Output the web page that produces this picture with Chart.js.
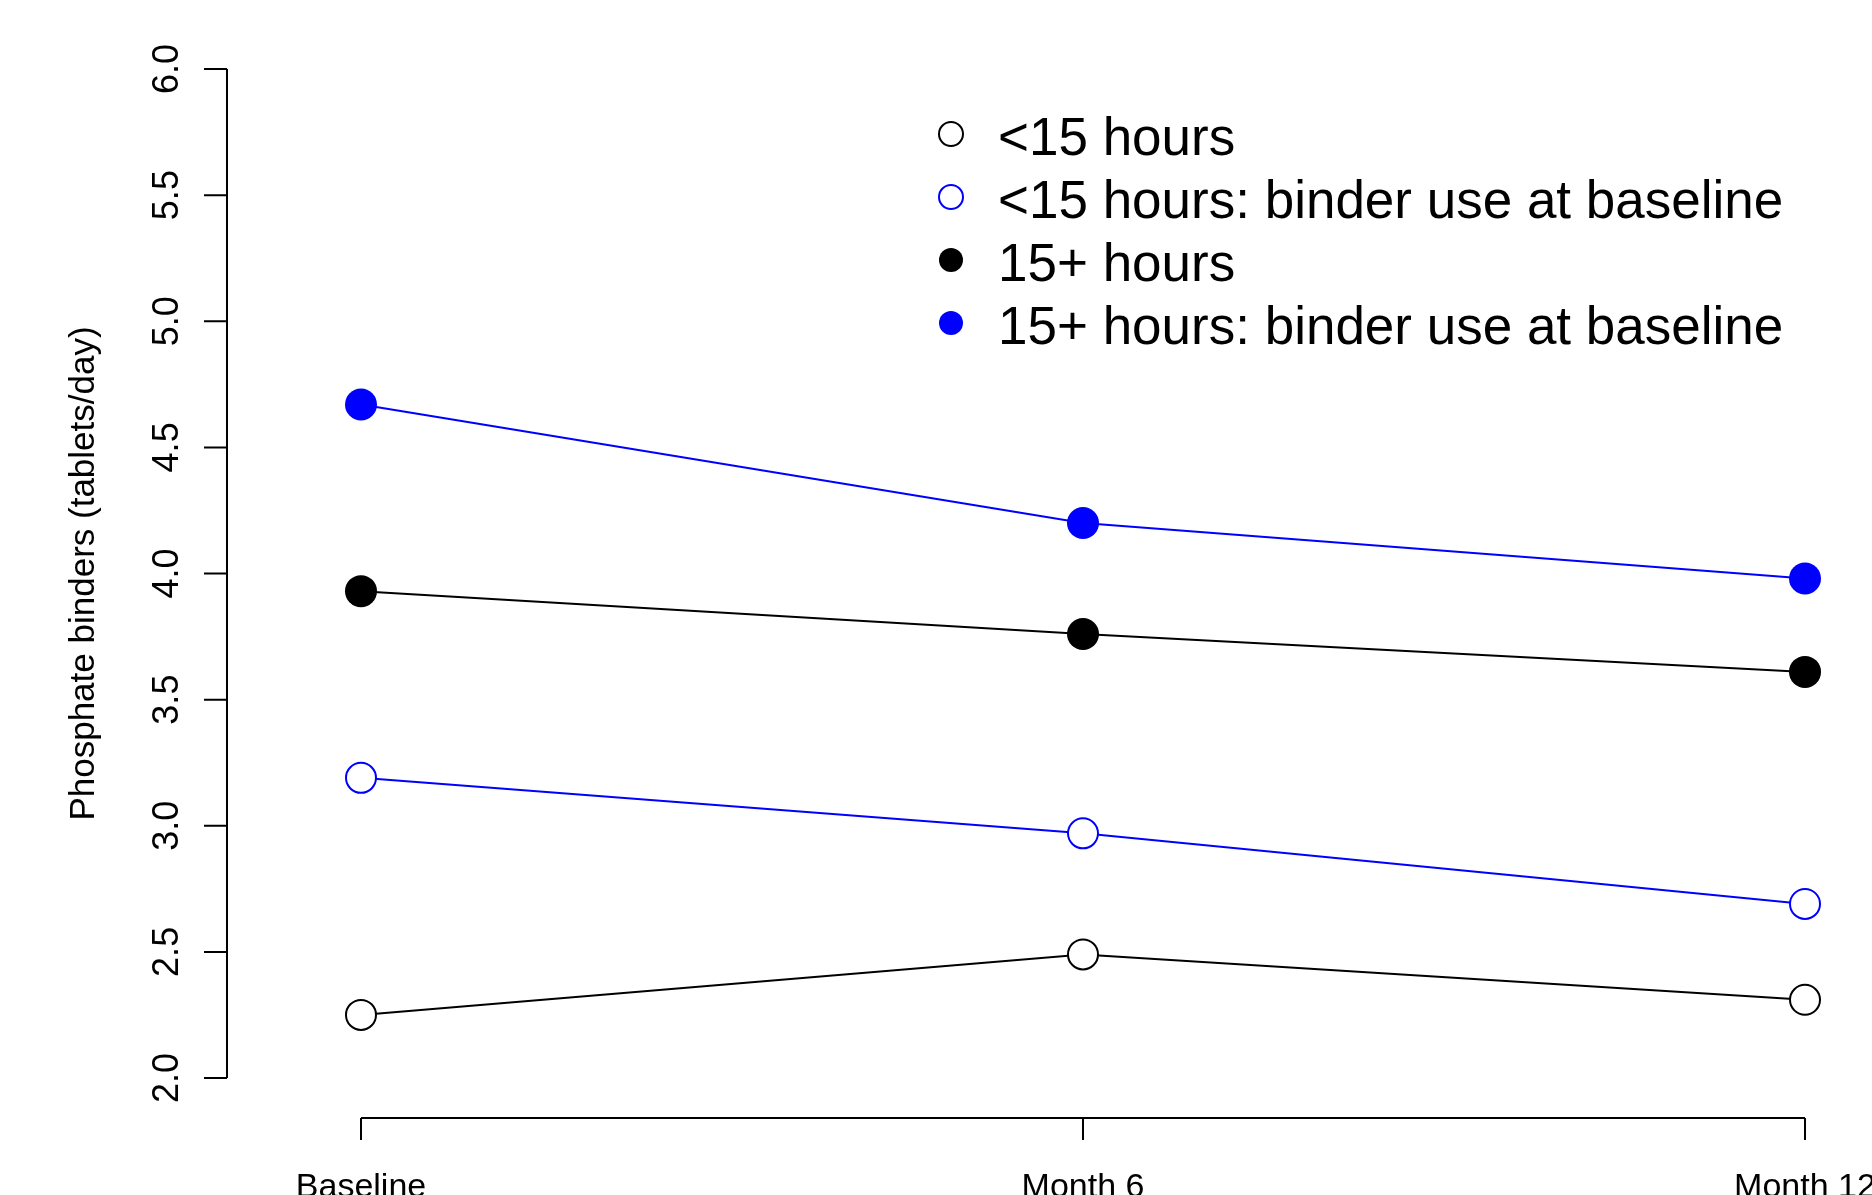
<!DOCTYPE html>
<html>
<head>
<meta charset="utf-8">
<script src="https://cdn.jsdelivr.net/npm/chart.js@4"></script>
<style>
  html, body { margin: 0; padding: 0; background: #fff; }
  canvas { display: block; }
</style>
</head>
<body>
<canvas id="binder-chart" width="1872" height="1195"></canvas>
<script>
const categories = ['Baseline', 'Month 6', 'Month 12'];
const under15 = [2.25, 2.49, 2.31];
const under15Binder = [3.19, 2.97, 2.69];
const over15 = [3.93, 3.76, 3.61];
const over15Binder = [4.67, 4.20, 3.98];
const seriesLabels = [
    '<15 hours',
    '<15 hours: binder use at baseline',
    '15+ hours',
    '15+ hours: binder use at baseline'
];
const yTicks = ['2.0', '2.5', '3.0', '3.5', '4.0', '4.5', '5.0', '5.5', '6.0'];
const yTitle = 'Phosphate binders (tablets/day)';

const FONT = '"Liberation Sans", Arial, Helvetica, sans-serif';

function series(label, data, color, filled) {
    return {
        label: label,
        data: data,
        borderColor: color,
        borderWidth: 2,
        pointStyle: 'circle',
        pointRadius: filled ? 16 : 15,
        pointBorderWidth: filled ? 0 : 2,
        pointBorderColor: color,
        pointBackgroundColor: filled ? color : '#fff',
        fill: false,
        tension: 0,
        clip: false,
        _filled: filled
    };
}

// R style axes and legend, drawn off the chart's own scales
const rAxes = {
    id: 'rAxes',
    afterDraw(chart) {
        const ctx = chart.ctx;
        const x = chart.scales.x;
        const y = chart.scales.y;
        const yAxisX = 227;
        const xAxisY = 1118;

        ctx.save();
        ctx.strokeStyle = '#000';
        ctx.fillStyle = '#000';
        ctx.lineWidth = 2;

        // y axis
        const yTop = y.getPixelForValue(Number(yTicks[yTicks.length - 1]));
        const yBot = y.getPixelForValue(Number(yTicks[0]));
        ctx.beginPath();
        ctx.moveTo(yAxisX, yTop);
        ctx.lineTo(yAxisX, yBot);
        yTicks.forEach(t => {
            const py = y.getPixelForValue(Number(t));
            ctx.moveTo(yAxisX - 23, py);
            ctx.lineTo(yAxisX, py);
        });
        ctx.stroke();

        ctx.font = '36px ' + FONT;
        ctx.textAlign = 'center';
        ctx.textBaseline = 'alphabetic';
        yTicks.forEach(t => {
            const py = y.getPixelForValue(Number(t));
            ctx.save();
            ctx.translate(178, py);
            ctx.rotate(-Math.PI / 2);
            ctx.fillText(t, 0, 0);
            ctx.restore();
        });

        ctx.font = '35px ' + FONT;
        ctx.save();
        ctx.translate(94, (yTop + yBot) / 2);
        ctx.rotate(-Math.PI / 2);
        ctx.fillText(yTitle, 0, 0);
        ctx.restore();

        // x axis
        const xs = categories.map((c, i) => x.getPixelForValue(i));
        ctx.beginPath();
        ctx.moveTo(xs[0], xAxisY);
        ctx.lineTo(xs[xs.length - 1], xAxisY);
        xs.forEach(px => {
            ctx.moveTo(px, xAxisY);
            ctx.lineTo(px, xAxisY + 22);
        });
        ctx.stroke();

        ctx.font = '34px ' + FONT;
        categories.forEach((c, i) => {
            ctx.fillText(c, xs[i], 1197);
        });

        // legend
        ctx.font = '53px ' + FONT;
        ctx.textAlign = 'left';
        chart.data.datasets.forEach((ds, i) => {
            const cy = 134 + 63 * i;
            ctx.beginPath();
            ctx.arc(951, cy, 12, 0, Math.PI * 2);
            if (ds._filled) {
                ctx.fillStyle = ds.borderColor;
                ctx.fill();
            } else {
                ctx.strokeStyle = ds.borderColor;
                ctx.lineWidth = 2;
                ctx.stroke();
            }
            ctx.fillStyle = '#000';
            ctx.fillText(ds.label, 998, 155 + 63 * i);
        });
        ctx.restore();
    }
};

const ctx = document.getElementById('binder-chart').getContext('2d');
new Chart(ctx, {
    type: 'line',
    data: {
        labels: categories,
        datasets: [
            series(seriesLabels[0], under15, '#000000', false),
            series(seriesLabels[1], under15Binder, '#0000ff', false),
            series(seriesLabels[2], over15, '#000000', true),
            series(seriesLabels[3], over15Binder, '#0000ff', true)
        ]
    },
    options: {
        responsive: false,
        animation: false,
        devicePixelRatio: 1,
        layout: {
            padding: { left: 361, right: 67, top: 69, bottom: 117 }
        },
        scales: {
            x: { type: 'category', offset: false, display: false },
            y: { min: 2, max: 6, display: false }
        },
        plugins: {
            legend: { display: false },
            tooltip: { enabled: false }
        }
    },
    plugins: [rAxes]
});
</script>
</body>
</html>
